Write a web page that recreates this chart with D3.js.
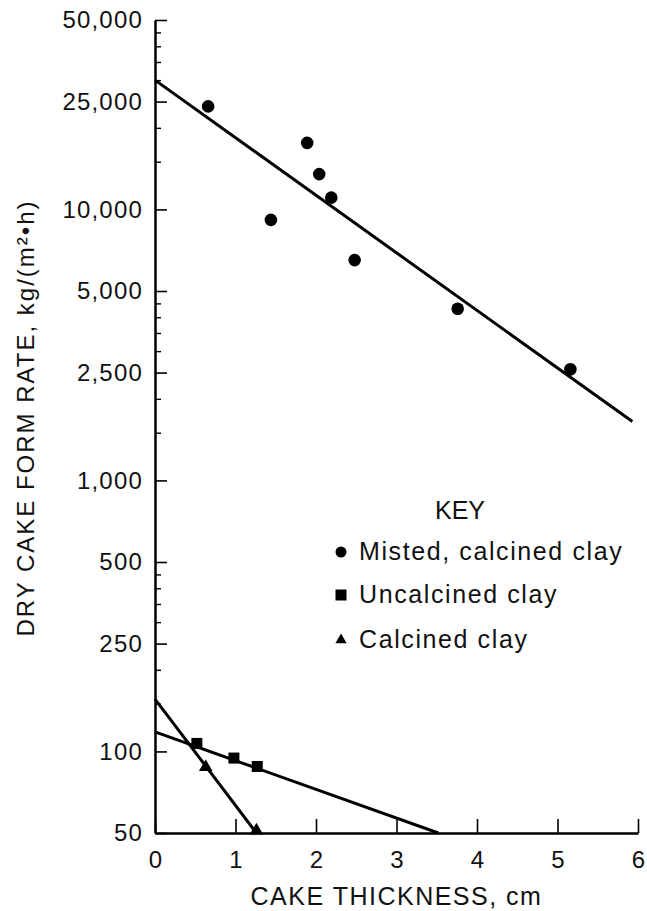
<!DOCTYPE html>
<html>
<head>
<meta charset="utf-8">
<script src="https://cdn.jsdelivr.net/npm/d3@7"></script>
<style>
  body { margin: 0; background: #fff; }
  svg { display: block; font-family: "Liberation Sans", Arial, Helvetica, sans-serif; }
</style>
</head>
<body>
<div id="chart"></div>
<script>
// data (cake thickness cm, rate kg/(m2.h))
const mistedX = [0.66, 1.44, 1.89, 2.04, 2.19, 2.48, 3.76, 5.16];
const mistedY = [24000, 9150, 17600, 13500, 11050, 6500, 4300, 2570];
const uncalcX = [0.52, 0.98, 1.27];
const uncalcY = [107, 94.5, 88];
const calcX = [0.63, 1.26];
const calcY = [87.5, 51];

// fitted lines, end points
const mistedFit = [[0, 30000], [5.93, 1650]];
const uncalcFit = [[0, 118], [3.52, 50]];
const calcFit = [[0, 156], [1.26, 50]];

const xTicks = [0, 1, 2, 3, 4, 5, 6];
const yTicks = [50000, 25000, 10000, 5000, 2500, 1000, 500, 250, 100, 50];
const yMinor = [45000, 40000, 35000, 30000, 20000, 15000,
                4500, 4000, 3500, 3000, 2000, 1500,
                450, 400, 350, 300, 200, 150];

const legendNames = ["Misted, calcined clay", "Uncalcined clay", "Calcined clay"];

const margin = {top: 20, right: 9, bottom: 78, left: 155},
      width = 647 - margin.left - margin.right,
      height = 911 - margin.top - margin.bottom;

const svgRoot = d3.select("#chart")
  .append("svg")
  .attr("width", 647)
  .attr("height", 911);

const svg = svgRoot.append("g")
  .attr("transform", `translate(${margin.left},${margin.top})`);

const x = d3.scaleLinear().domain([0, 6]).range([0, width]);
const y = d3.scaleLog().domain([50, 50000]).range([height, 0]);

// y axis
const yAxis = svg.append("g")
  .call(d3.axisLeft(y)
          .tickValues(yTicks)
          .tickFormat(d3.format(","))
          .tickSize(-12)
          .tickSizeOuter(0)
          .tickPadding(12));
yAxis.select(".domain").attr("stroke-width", 2.5);
yAxis.selectAll(".tick line").attr("stroke-width", 1.6);
yAxis.selectAll("text")
  .style("font-size", "24px")
  .style("letter-spacing", "1.2px")
  .attr("fill", "#111");

svg.append("g")
  .call(d3.axisLeft(y).tickValues(yMinor).tickFormat("").tickSize(-6).tickSizeOuter(0))
  .call(g => g.select(".domain").remove())
  .selectAll(".tick line").attr("stroke-width", 1.4);

// x axis
const xAxis = svg.append("g")
  .attr("transform", `translate(0,${height})`)
  .call(d3.axisBottom(x)
          .tickValues(xTicks)
          .tickFormat(d3.format("d"))
          .tickSize(-14)
          .tickSizeOuter(0)
          .tickPadding(18));
xAxis.select(".domain").attr("stroke-width", 2.5);
xAxis.selectAll(".tick line").attr("stroke-width", 1.6);
xAxis.selectAll("text")
  .style("font-size", "24px")
  .attr("fill", "#111");

// axis titles
svgRoot.append("text")
  .attr("x", margin.left + x(3))
  .attr("y", 905)
  .attr("text-anchor", "middle")
  .style("font-size", "25px")
  .style("letter-spacing", "1.5px")
  .attr("fill", "#111")
  .text("CAKE THICKNESS, cm");

svgRoot.append("text")
  .attr("transform", "translate(34,418) rotate(-90)")
  .attr("text-anchor", "middle")
  .style("font-size", "24px")
  .style("letter-spacing", "2px")
  .attr("fill", "#111")
  .text("DRY CAKE FORM RATE, kg/(m²•h)");

// fitted lines
const line = d3.line().x(d => x(d[0])).y(d => y(d[1]));
[mistedFit, uncalcFit, calcFit].forEach(f => {
  svg.append("path")
     .attr("d", line(f))
     .attr("fill", "none")
     .attr("stroke", "#000")
     .attr("stroke-width", 3);
});

// points
svg.selectAll(".misted")
   .data(mistedX)
   .enter()
   .append("circle")
   .attr("class", "misted")
   .attr("cx", d => x(d))
   .attr("cy", (d, i) => y(mistedY[i]))
   .attr("r", 6.3)
   .attr("fill", "#000");

svg.selectAll(".uncalc")
   .data(uncalcX)
   .enter()
   .append("rect")
   .attr("class", "uncalc")
   .attr("x", d => x(d) - 5.5)
   .attr("y", (d, i) => y(uncalcY[i]) - 5.5)
   .attr("width", 11)
   .attr("height", 11)
   .attr("fill", "#000");

const tri = d3.symbol().type(d3.symbolTriangle).size(80);
svg.selectAll(".calc")
   .data(calcX)
   .enter()
   .append("path")
   .attr("class", "calc")
   .attr("d", tri)
   .attr("transform", (d, i) => `translate(${x(d)},${y(calcY[i])})`)
   .attr("fill", "#000");

// key
const key = svgRoot.append("g");
key.append("text")
   .attr("x", 460)
   .attr("y", 519)
   .attr("text-anchor", "middle")
   .style("font-size", "25px")
   .attr("fill", "#111")
   .text("KEY");

const rowY = [552, 595, 640];
key.append("circle").attr("cx", 341).attr("cy", rowY[0]).attr("r", 5.5).attr("fill", "#000");
key.append("rect").attr("x", 335.5).attr("y", rowY[1] - 5.5).attr("width", 11).attr("height", 11).attr("fill", "#000");
key.append("path").attr("d", d3.symbol().type(d3.symbolTriangle).size(55))
   .attr("transform", `translate(341,${rowY[2]})`).attr("fill", "#000");

key.selectAll(".lbl")
   .data(legendNames)
   .enter()
   .append("text")
   .attr("class", "lbl")
   .attr("x", 359)
   .attr("y", (d, i) => rowY[i] + 8)
   .style("font-size", "25px")
   .style("letter-spacing", "1.6px")
   .attr("fill", "#111")
   .text(d => d);
</script>
</body>
</html>
